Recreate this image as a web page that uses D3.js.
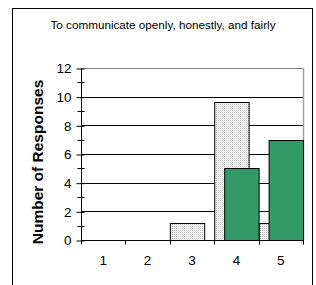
<!DOCTYPE html>
<html><head><meta charset="utf-8">
<script src="https://cdn.jsdelivr.net/npm/d3@7"></script>
<style>body{margin:0;background:#fff}svg{display:block}text{font-family:Arial,"Liberation Sans",sans-serif}</style>
</head><body>
<svg id="c" width="316" height="285"></svg>
<script>
const categories = ["1","2","3","4","5"];
const seriesA = [0, 0, 1.2, 9.6, 1.2];   // dotted gray series
const seriesB = [0, 0, 0, 5, 7];         // green series
const yTicks = [0, 2, 4, 6, 8, 10, 12];
const titleText = "To communicate openly, honestly, and fairly";
const yLabel = "Number of Responses";

const svg = d3.select("#c");
const defs = svg.append("defs");
const pat = defs.append("pattern").attr("id","dots").attr("width",2).attr("height",2).attr("patternUnits","userSpaceOnUse");
pat.append("rect").attr("width",2).attr("height",2).attr("fill","#f2f2f2");
pat.append("rect").attr("width",1).attr("height",1).attr("fill","#c4c4c4");

// outer frame
svg.append("rect").attr("x",12.5).attr("y",8.5).attr("width",300).attr("height",300)
  .attr("fill","none").attr("stroke","#000");

svg.append("text").attr("x",163).attr("y",29).attr("text-anchor","middle")
  .attr("font-size",11.7).attr("fill","#000").text(titleText);

const x = d3.scaleBand().domain(categories).range([81, 303]).padding(0);
const y = d3.scaleLinear().domain([0, 12]).range([240, 68]);

// gridlines
svg.append("g").selectAll("line").data(yTicks.filter(d=>d>0)).join("line")
  .attr("x1",81).attr("x2",303)
  .attr("y1",d=>Math.round(y(d))+0.5).attr("y2",d=>Math.round(y(d))+0.5)
  .attr("stroke",d=>d===12?"#808080":"#000").attr("stroke-width",1);
// right border of plot area
svg.append("line").attr("x1",303.5).attr("x2",303.5).attr("y1",68).attr("y2",240)
  .attr("stroke","#a0a0a0").attr("stroke-width",1.5);

const bw = x.bandwidth()*0.775;
const off = x.bandwidth()-bw;
// series A
svg.append("g").selectAll("rect").data(seriesA.map((v,i)=>({c:categories[i],v}))).join("rect")
  .filter(d=>d.v>0)
  .attr("x",d=>x(d.c)+0.5).attr("width",bw)
  .attr("y",d=>Math.round(y(d.v))+0.5).attr("height",d=>y(0)-Math.round(y(d.v)))
  .attr("fill","url(#dots)").attr("stroke","#000").attr("stroke-width",1);
// series B
svg.append("g").selectAll("rect").data(seriesB.map((v,i)=>({c:categories[i],v}))).join("rect")
  .filter(d=>d.v>0)
  .attr("x",d=>x(d.c)+off+0.5).attr("width",bw)
  .attr("y",d=>Math.round(y(d.v))+0.5).attr("height",d=>y(0)-Math.round(y(d.v)))
  .attr("fill","#339966").attr("stroke","#000").attr("stroke-width",1);

// y axis
const yAxis = d3.axisLeft(y).tickValues(yTicks).tickSize(5).tickPadding(4);
const gy = svg.append("g").attr("transform","translate(81.5,0.5)").call(yAxis);
gy.select(".domain").attr("d","M0,68V240").attr("stroke","#000");
gy.selectAll(".tick line").attr("x2",-5).attr("x1",3).attr("stroke","#000");
gy.selectAll(".tick text").attr("font-size",13.5).attr("font-family","Arial, 'Liberation Sans', sans-serif").attr("fill","#000").attr("x",-10);
// minor ticks
const minor = d3.range(1, 12, 2);
gy.append("g").selectAll("line").data(minor).join("line")
  .attr("x1",-4).attr("x2",3).attr("y1",d=>Math.round(y(d))).attr("y2",d=>Math.round(y(d)))
  .attr("stroke","#000");

// x axis
const gx = svg.append("g").attr("transform","translate(0,240.5)");
gx.append("line").attr("x1",81).attr("x2",303).attr("stroke","#000");
const bounds = categories.map(c=>x(c)).concat([x(categories[categories.length-1])+x.bandwidth()]);
gx.selectAll("line.t").data(bounds).join("line").attr("class","t")
  .attr("x1",d=>Math.round(d)+0.5).attr("x2",d=>Math.round(d)+0.5).attr("y1",0).attr("y2",4).attr("stroke","#000");
gx.selectAll("text").data(categories).join("text")
  .attr("x",d=>x(d)+x.bandwidth()/2).attr("y",24).attr("text-anchor","middle")
  .attr("font-size",13.5).attr("fill","#000").text(d=>d);

svg.append("text").attr("transform","translate(43,162) rotate(-90)").attr("text-anchor","middle")
  .attr("font-size",15.5).attr("font-weight","bold").attr("fill","#000").text(yLabel);
</script>
</body></html>
